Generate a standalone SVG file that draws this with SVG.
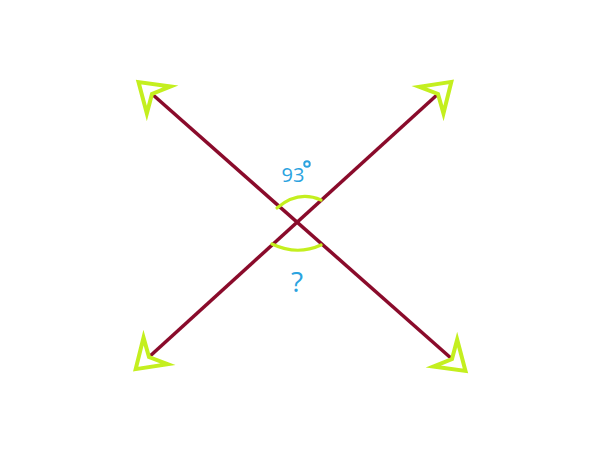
<svg xmlns="http://www.w3.org/2000/svg" width="600" height="450" viewBox="0 0 600 450">
<style>
.ln{stroke:#8a0b2b;stroke-width:3.5;fill:none;marker-start:url(#ah);marker-end:url(#ah)}
.arc{stroke:#c4ef1f;stroke-width:3.2;fill:none;stroke-linecap:round}
.lbl{font-family:"Open Sans","Noto Sans",sans-serif;fill:#2ba3df;text-anchor:middle}
</style>
<defs>
<marker id="ah" markerUnits="userSpaceOnUse" viewBox="0 0 40 44" markerWidth="40" markerHeight="44" refX="14" refY="22" orient="auto-start-reverse" overflow="visible">
<path d="M32,22 L5,4 L14,22 L5,40 Z" fill="#ffffff" stroke="#c4ef1f" stroke-width="4" stroke-linejoin="miter"/>
</marker>
</defs>
<rect width="600" height="450" fill="#ffffff"/>
<g id="connectors">
<line class="ln" x1="152" y1="94" x2="452" y2="359"/>
<line class="ln" x1="149" y1="357" x2="438" y2="94"/>
</g>
<g id="angle-top">
<path class="arc" d="M277,208 Q298,190 321,200"/>
<text class="lbl" x="293" y="182" font-size="20">93</text>
<circle cx="307" cy="164" r="2.8" fill="none" stroke="#2ba3df" stroke-width="1.9"/>
</g>
<g id="angle-bottom">
<path class="arc" d="M272,244 Q297,256 321,245"/>
<text class="lbl" x="297" y="292" font-size="28">?</text>
</g>
</svg>
